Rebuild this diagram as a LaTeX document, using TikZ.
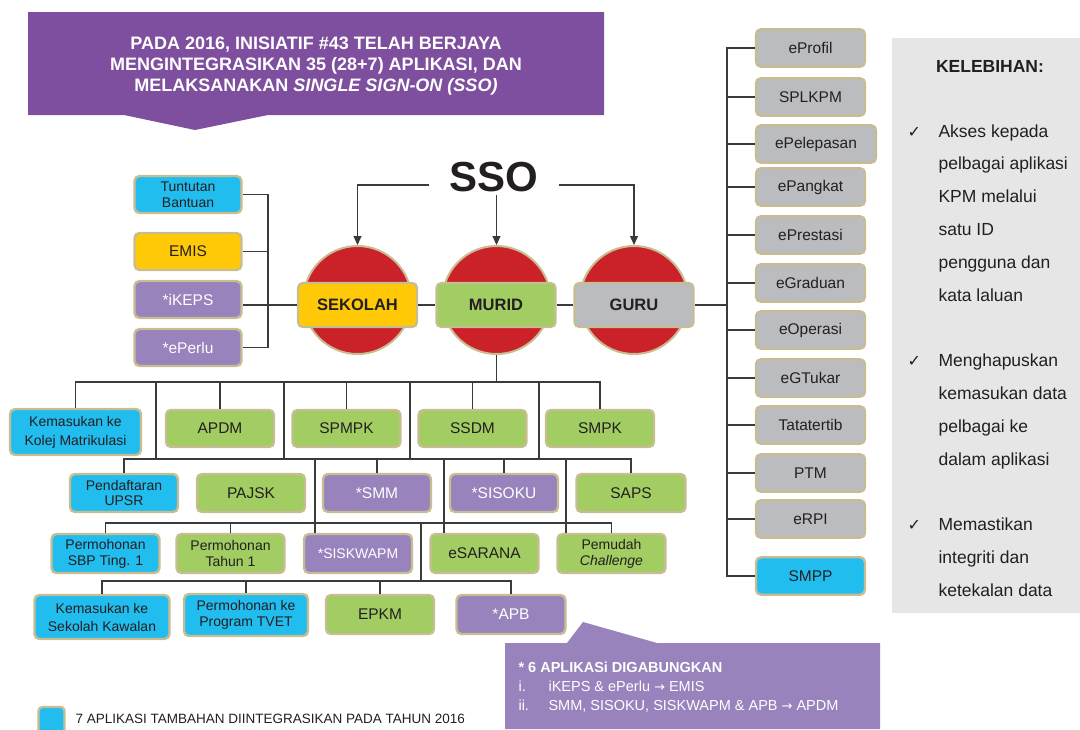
\documentclass[tikz,border=0pt]{standalone}
\usepackage{fontspec}
\setmainfont{Liberation Sans}
\newfontfamily\dejavu{DejaVu Sans}
\usetikzlibrary{arrows.meta}
\definecolor{bannerc}{HTML}{7E4F9E}
\definecolor{lpurp}{HTML}{9883BD}
\definecolor{cyanc}{HTML}{22BDEF}
\definecolor{yellowc}{HTML}{FFC907}
\definecolor{greenc}{HTML}{A2CD62}
\definecolor{greyc}{HTML}{BBBCBF}
\definecolor{tanc}{HTML}{C8BD92}
\definecolor{redc}{HTML}{CB2128}
\definecolor{panelc}{HTML}{E6E6E7}
\definecolor{txt}{HTML}{231F20}
\definecolor{linec}{HTML}{3A3A3A}
\newcommand\fsz[2]{\fontsize{#1}{#2}\selectfont}
\newcommand\rarr{{\dejavu\fsz{13}{15}→}}
\begin{document}
\begin{tikzpicture}[x=1pt,y=-1pt,
  app/.style={draw=tanc,line width=2.4pt,rounded corners=5pt,inner sep=0pt,align=center,text=txt,
     minimum width=107pt,minimum height=37pt,font=\fsz{15.5}{16}},
  small/.style={font=\fsz{14}{15.5}},
  cy/.style={app,fill=cyanc},
  gr/.style={app,fill=greenc},
  pu/.style={app,fill=lpurp,text=white},
  ye/.style={app,fill=yellowc},
  gy/.style={app,fill=greyc,minimum width=109pt,minimum height=37.5pt},
  mainbox/.style={app,minimum width=119pt,minimum height=44pt,font=\bfseries\fsz{16.5}{18}},
  disc/.style={circle,draw=tanc,fill=redc,line width=2pt,minimum size=108pt,inner sep=0pt},
  conn/.style={draw=linec,line width=1.1pt},
  arr/.style={conn,-{Triangle[length=9pt,width=8pt]}},
  ptxt/.style={anchor=base west,text=txt,font=\fsz{17.5}{20}},
  ctxt/.style={anchor=base west,text=white,font=\fsz{14.5}{16}}
]
\useasboundingbox (0,0) rectangle (1080,729);

% banner
\fill[bannerc] (28,12) -- (604,12) -- (604,115) -- (268,115) -- (195,130) -- (124,115) -- (28,115) -- cycle;
\node[font=\bfseries\fsz{18}{21},text=white,align=center] (banner) at (316,66)
  {PADA 2016, INISIATIF \#43 TELAH BERJAYA\\MENGINTEGRASIKAN 35 (28+7) APLIKASI, DAN\\MELAKSANAKAN \textit{SINGLE SIGN-ON (SSO)}};

% right panel
\fill[panelc] (892,38) rectangle (1080,613);
\node[anchor=base,text=txt,font=\bfseries\fsz{17.5}{20}] (kel) at (990,72) {KELEBIHAN:};
\foreach \yy in {137,366,530}
  \node[anchor=base west,text=txt,font=\dejavu\fsz{16}{18}] at (904,\yy) {✓};
\foreach \t/\yy in {Akses kepada/137,pelbagai aplikasi/169,KPM melalui/202,satu ID/235,pengguna dan/268,kata laluan/301,
   Menghapuskan/366,kemasukan data/399,pelbagai ke/432,dalam aplikasi/465,
   Memastikan/530,integriti dan/563,ketekalan data/596}
  \node[ptxt] at (935,\yy) {\t};

% SSO
\node[font=\bfseries\fsz{42}{44},text=txt,inner xsep=20pt,inner ysep=3pt] (sso) at (494,177) {SSO};

% discs
\node[disc] (cS) at (357.5,300) {};
\node[disc] (cM) at (496.5,300) {};
\node[disc] (cG) at (634,300) {};

\draw[arr] ([yshift=-8pt]sso.west) -| (cS.north);
\draw[arr] (sso.south -| cM.north) -- (cM.north);
\draw[arr] ([yshift=-8pt]sso.east) -| (cG.north);

% main boxes
\node[mainbox,fill=yellowc] (sek) at (357.5,305) {SEKOLAH};
\node[mainbox,fill=greenc] (mur) at (496,305) {MURID};
\node[mainbox,fill=greyc] (guru) at (634,305) {GURU};

% left group
\node[cy,small] (tb) at (188,194.5) {Tuntutan\\Bantuan};
\node[ye] (emis) at (188,251.5) {EMIS};
\node[pu] (ikeps) at (188,299.5) {*iKEPS};
\node[pu] (eperlu) at (188,347.5) {*ePerlu};
\coordinate (lb) at (268,0);
\draw[conn] (tb.east) -| (lb |- eperlu.east) -- (eperlu.east);
\draw[conn] (emis.east) -- (emis.east -| lb);
\draw[conn] (ikeps.east |- sek.west) -- (sek.west);
\draw[conn] (sek.east) -- (mur.west);
\draw[conn] (mur.east) -- (guru.west);

% right column
\node[gy] (eprofil) at (810.5,48) {eProfil};
\node[gy] (splkpm) at (810.5,97) {SPLKPM};
\node[gy,minimum width=120pt] (epelepasan) at (816,144) {ePelepasan};
\node[gy] (epangkat) at (810.5,187) {ePangkat};
\node[gy] (eprestasi) at (810.5,235) {ePrestasi};
\node[gy] (egraduan) at (810.5,283) {eGraduan};
\node[gy] (eoperasi) at (810.5,330) {eOperasi};
\node[gy] (egtukar) at (810.5,378) {eGTukar};
\node[gy] (tatatertib) at (810.5,425) {Tatatertib};
\node[gy] (ptm) at (810.5,473) {PTM};
\node[gy] (erpi) at (810.5,519) {eRPI};
\node[gy,fill=cyanc] (smpp) at (810.5,576) {SMPP};
\coordinate (rb) at (727,0);
\draw[conn] (eprofil.west) -| (rb |- smpp.west) -- (smpp.west);
\foreach \n in {splkpm,epelepasan,epangkat,eprestasi,egraduan,eoperasi,egtukar,tatatertib,ptm,erpi}
  \draw[conn] (\n.west) -- (\n.west -| rb);
\draw[conn] (guru.east) -- (guru.east -| rb);

% tree rows
\node[cy,font=\fsz{14}{19},minimum width=131pt,minimum height=46pt] (kkm) at (75.5,432) {Kemasukan ke\\Kolej Matrikulasi};
\node[gr,minimum width=108pt] (apdm) at (220,428.5) {APDM};
\node[gr,minimum width=108pt] (spmpk) at (346.5,428.5) {SPMPK};
\node[gr,minimum width=108pt] (ssdm) at (472.5,428.5) {SSDM};
\node[gr,minimum width=108pt] (smpk) at (600,428.5) {SMPK};

\node[cy,small,minimum width=108pt,minimum height=38pt] (pend) at (124,493) {Pendaftaran\\UPSR};
\node[gr,minimum width=108pt,minimum height=38pt] (pajsk) at (251,493) {PAJSK};
\node[pu,minimum width=108pt,minimum height=38pt] (smm) at (377,493) {*SMM};
\node[pu,minimum width=108pt,minimum height=38pt] (sisoku) at (504,493) {*SISOKU};
\node[gr,minimum width=109pt,minimum height=38pt] (saps) at (631,493) {SAPS};

\node[cy,font=\fsz{14}{16},minimum width=108pt,minimum height=39pt] (sbp) at (105.5,553.5) {Permohonan\\SBP Ting. 1};
\node[gr,font=\fsz{14}{16},minimum width=108pt,minimum height=39pt] (tahun) at (230.5,553.5) {Permohonan\\Tahun 1};
\node[pu,small,minimum width=108pt,minimum height=39pt] (siskwapm) at (358,553.5) {*SISKWAPM};
\node[gr,minimum width=108pt,minimum height=39pt] (esarana) at (484.5,553.5) {eSARANA};
\node[gr,font=\fsz{14}{16},minimum width=108pt,minimum height=39pt] (pemudah) at (611.5,553.5) {Pemudah\\\textit{Challenge}};

\node[cy,font=\fsz{14}{18},minimum width=135pt,minimum height=44pt] (skaw) at (102,617) {Kemasukan ke\\Sekolah Kawalan};
\node[cy,font=\fsz{14}{16},minimum width=124pt,minimum height=42pt] (tvet) at (246,615) {Permohonan ke\\Program TVET};
\node[gr,minimum width=108pt,minimum height=39pt] (epkm) at (380,614.5) {EPKM};
\node[pu,minimum width=109pt,minimum height=39pt] (apb) at (511,614.5) {*APB};

\coordinate (b1) at (0,382);
\coordinate (b2) at (0,459);
\coordinate (b3) at (0,523);
\coordinate (b4) at (0,581);
\draw[conn] (cM.south) -- (cM.south |- b1);
\draw[conn] (kkm.north) |- (smpk.north |- b1) -- (smpk.north);
\foreach \n in {apdm,spmpk,ssdm} \draw[conn] (\n.north) -- (\n.north |- b1);
\foreach \xx in {156,284,410,539} {
  \coordinate (v) at (\xx,0);
  \draw[conn] (v |- b1) -- (v |- b2);
}
\draw[conn] (pend.north) |- (saps.north |- b2) -- (saps.north);
\foreach \n in {smm,sisoku} \draw[conn] (\n.north) -- (\n.north |- b2);
\foreach \xx in {315,444,566} {
  \coordinate (v) at (\xx,0);
  \draw[conn] (v |- b2) -- (v |- siskwapm.north);
}
\draw[conn] (sbp.north) |- (pemudah.north |- b3) -- (pemudah.north);
\draw[conn] (tahun.north) -- (tahun.north |- b3);
\coordinate (v4) at (421,0);
\draw[conn] (v4 |- b3) -- (v4 |- b4);
\draw[conn] (skaw.north) |- (apb.north |- b4) -- (apb.north);
\foreach \n in {tvet,epkm} \draw[conn] (\n.north) -- (\n.north |- b4);

% callout
\fill[lpurp] (505,643) -- (567,643) -- (583,622) -- (657,643) -- (880,643) -- (880,729) -- (505,729) -- cycle;
\node[ctxt,font=\bfseries\fsz{14.5}{16}] (c1) at (515,672) {* 6 APLIKASi DIGABUNGKAN};
\node[ctxt] (c2a) at (515,691) {i.};
\node[ctxt] (c2b) at (545,691) {iKEPS \& ePerlu \rarr{} EMIS};
\node[ctxt] (c3a) at (515,710) {ii.};
\node[ctxt] (c3b) at (545,710) {SMM, SISOKU, SISKWAPM \& APB \rarr{} APDM};

% legend
\node[draw=tanc,fill=cyanc,line width=2.4pt,rounded corners=4pt,minimum width=26pt,minimum height=28pt,inner sep=0pt] (leg) at (51.5,721) {};
\node[anchor=base west,text=txt,font=\fsz{13.5}{15}] (legt) at (72,723) {7 APLIKASI TAMBAHAN DIINTEGRASIKAN PADA TAHUN 2016};
\end{tikzpicture}
\end{document}
